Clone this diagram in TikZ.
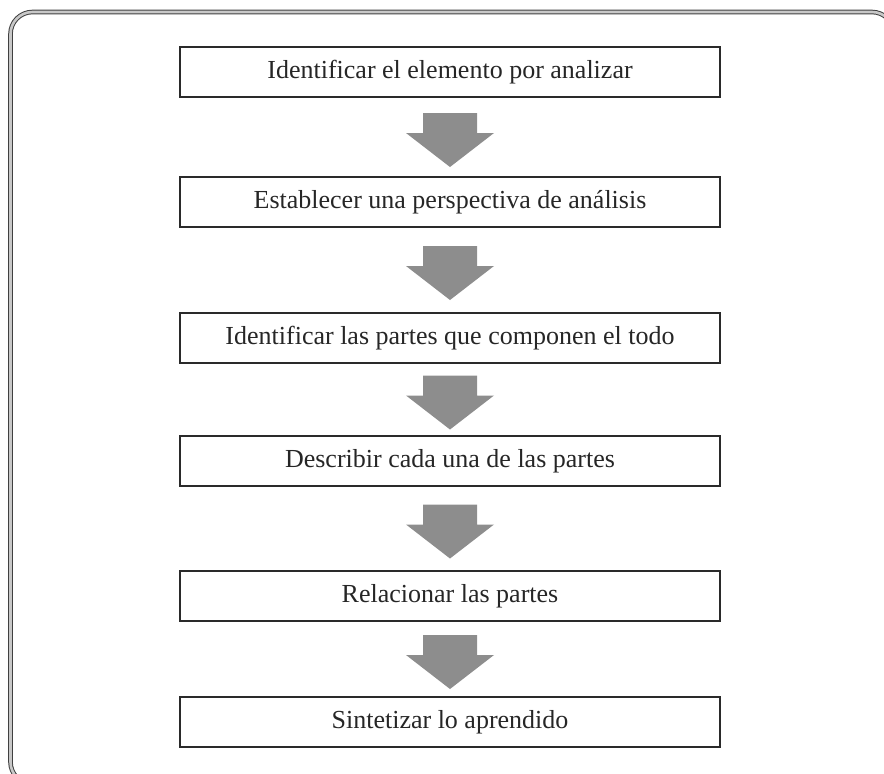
\documentclass[tikz,border=0pt]{standalone}
\usepackage{fontspec}
\setmainfont{Liberation Serif}
\usetikzlibrary{calc}
\definecolor{boxline}{HTML}{2A2A2A}
\definecolor{arrowgray}{HTML}{8D8D8D}
\definecolor{framefill}{HTML}{C8C8C8}
\begin{document}
\begin{tikzpicture}[x=1pt,y=-1pt,
  stepbox/.style={draw=boxline,line width=1.5pt,minimum width=540pt,minimum height=50pt,inner sep=0pt,
    font=\fontsize{26}{30}\selectfont,text=black!85},
  blockarrow/.style={fill=arrowgray}]
\useasboundingbox (0,0) rectangle (884,774);
\draw[line width=1pt,draw=black!75,double=framefill,double distance=2.6pt,rounded corners=22pt]
  (10.5,12) rectangle (894,784);
\node[stepbox] (b1) at (450,72) {Identificar el elemento por analizar};
\node[stepbox] (b2) at (450,202) {Establecer una perspectiva de análisis};
\node[stepbox] (b3) at (450,338) {Identificar las partes que componen el todo};
\node[stepbox] (b4) at (450,461) {Describir cada una de las partes};
\node[stepbox] (b5) at (450,596) {Relacionar las partes};
\node[stepbox] (b6) at (450,722) {Sintetizar lo aprendido};
\foreach \a/\b in {b1/b2,b2/b3,b3/b4,b4/b5,b5/b6}{
  \coordinate (m-\a) at ($(\a.south)!0.5!(\b.north)+(0,3)$);
  \fill[blockarrow,shift={(m-\a)}] (-27,-27) -- (27,-27) -- (27,-7) -- (44,-7) -- (0,27) -- (-44,-7) -- (-27,-7) -- cycle;
}
\end{tikzpicture}
\end{document}
